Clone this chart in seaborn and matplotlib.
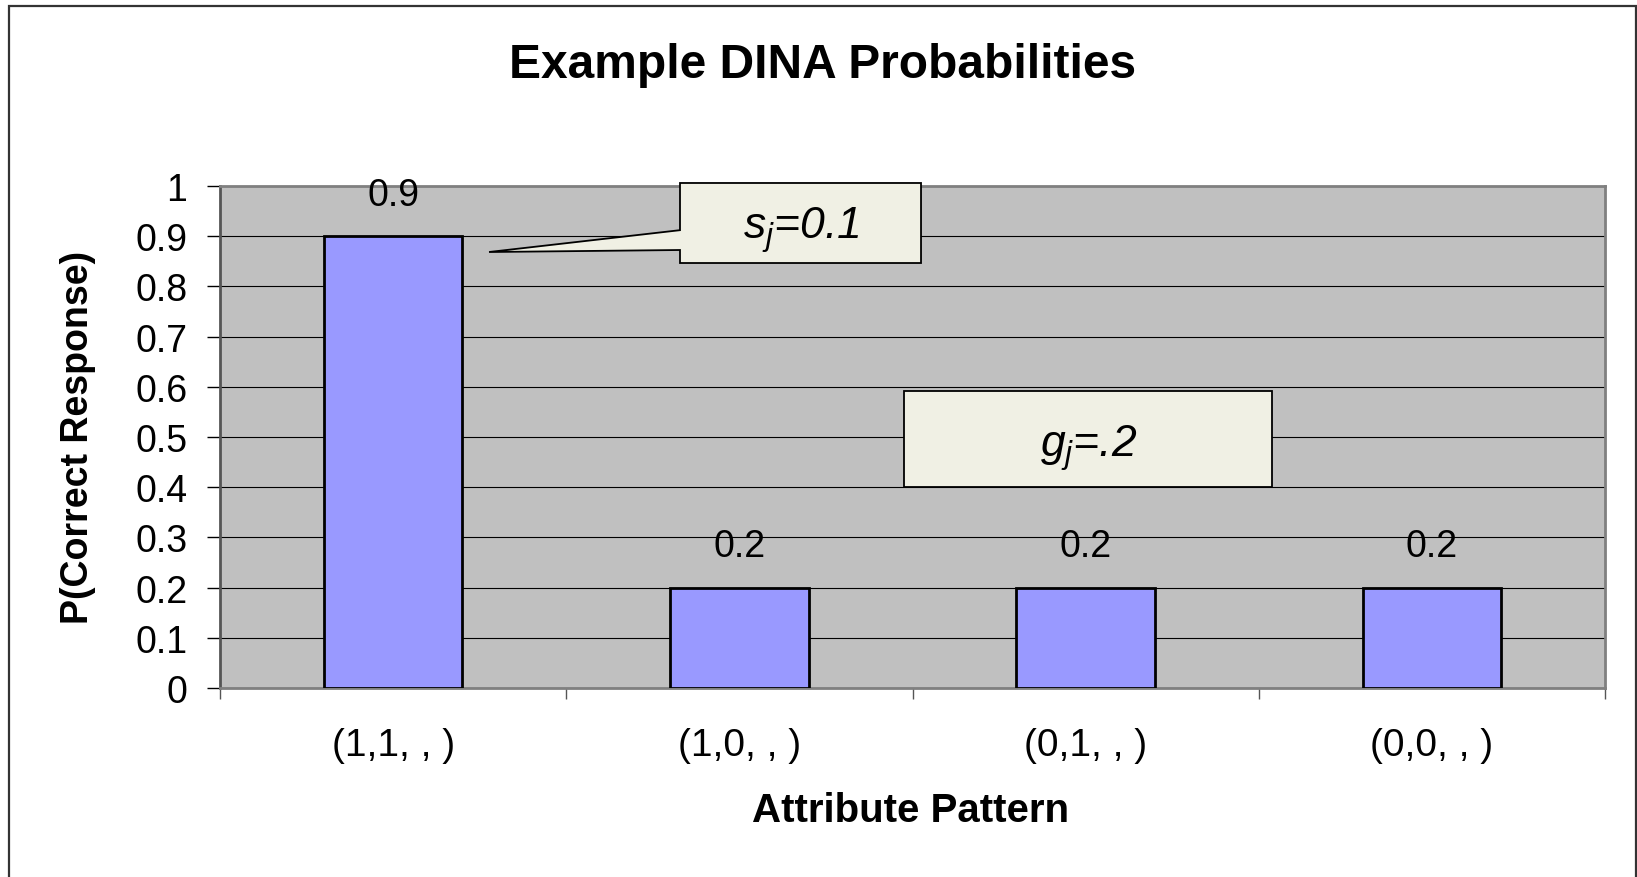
import matplotlib
matplotlib.use("Agg")
import matplotlib.pyplot as plt
import seaborn as sns
import pandas as pd
from matplotlib.patches import Polygon, Rectangle
from matplotlib.ticker import FixedLocator

# ---- data ----
patterns = ["(1,1, , )", "(1,0, , )", "(0,1, , )", "(0,0, , )"]
probabilities = [0.9, 0.2, 0.2, 0.2]
value_labels = ["0.9", "0.2", "0.2", "0.2"]
y_ticks = [0, 0.1, 0.2, 0.3, 0.4, 0.5, 0.6, 0.7, 0.8, 0.9, 1.0]
y_tick_labels = ["0", "0.1", "0.2", "0.3", "0.4", "0.5", "0.6", "0.7", "0.8", "0.9", "1"]
title = "Example DINA Probabilities"
x_label = "Attribute Pattern"
y_label = "P(Correct Response)"
slip_text = r"$s_j$=0.1"
guess_text = r"$g_j$=.2"

sns.set_style("white")
plt.rcParams["font.family"] = ["Liberation Sans", "DejaVu Sans"]
plt.rcParams["mathtext.fontset"] = "custom"
plt.rcParams["mathtext.it"] = "Liberation Sans:italic"
plt.rcParams["mathtext.rm"] = "Liberation Sans"
plt.rcParams["text.color"] = "black"
plt.rcParams["xtick.color"] = "black"
plt.rcParams["ytick.color"] = "black"
plt.rcParams["xtick.labelcolor"] = "black"
plt.rcParams["ytick.labelcolor"] = "black"

W, H = 1637, 878
fig = plt.figure(figsize=(W / 100, H / 100), dpi=100)
fig.patch.set_facecolor("white")

# axes position from pixel geometry
L, R, T, B = 220, 1605, 187, 689
ax = fig.add_axes([L / W, 1 - B / H, (R - L) / W, (B - T) / H])
ax.set_facecolor("#C0C0C0")

df = pd.DataFrame({"pattern": patterns, "p": probabilities})
sns.barplot(data=df, x="pattern", y="p", ax=ax, color="#9999FF", width=0.4,
            edgecolor="black", linewidth=2.0, saturation=1, zorder=3)

ax.set_xlim(-0.5, 3.5)
ax.set_ylim(0, 1.0)

# grid
ax.set_yticks(y_ticks)
ax.set_yticklabels(y_tick_labels, fontsize=27)
ax.yaxis.grid(True, color="black", linewidth=0.8, zorder=0)
ax.set_axisbelow(True)
ax.tick_params(axis="y", direction="out", length=9.5, width=1.0, color="black",
               pad=14, left=True)

# x ticks: labels at categories, tick marks at boundaries
ax.set_xticks(range(len(patterns)))
ax.set_xticklabels(patterns, fontsize=28)
ax.tick_params(axis="x", which="major", length=0, pad=28)
ax.xaxis.set_minor_locator(FixedLocator([-0.5, 0.5, 1.5, 2.5, 3.5]))
ax.tick_params(axis="x", which="minor", direction="out", length=8, width=1.0,
               color="#555555", bottom=True)

for s in ax.spines.values():
    s.set_color("#808080")
    s.set_linewidth(2.0)
ax.spines["left"].set_color("#555555")

ax.set_xlabel("")
ax.set_ylabel("")

# value labels
for i, (v, lab) in enumerate(zip(probabilities, value_labels)):
    ax.text(i, v + 0.082, lab, ha="center", va="center", fontsize=27, zorder=5)

# callout 1 (with pointer)
fill = "#F0F0E4"
x0, x1, yt, yb = 0.8285, 1.5246, 1.006, 0.8466
pa_top, pa_bot = 0.912, 0.8725
tip = (0.277, 0.8685)
poly = Polygon([(x0, yt), (x1, yt), (x1, yb), (x0, yb), (x0, pa_bot), tip, (x0, pa_top)],
               closed=True, facecolor=fill, edgecolor="black", linewidth=1.3,
               zorder=6, clip_on=False)
ax.add_patch(poly)
ax.text(1.18, 0.915, slip_text, ha="center", va="center", fontsize=32,
        style="italic", zorder=7)

# callout 2
gx0, gx1, gyt, gyb = 1.4755, 2.5383, 0.5916, 0.4004
ax.add_patch(Rectangle((gx0, gyb), gx1 - gx0, gyt - gyb, facecolor=fill,
                       edgecolor="black", linewidth=1.3, zorder=6))
ax.text(2.01, 0.48, guess_text, ha="center", va="center", fontsize=32,
        style="italic", zorder=7)

# titles
fig.text(823 / W, 1 - 65 / H, title, ha="center", va="center", fontsize=34.5,
         fontweight="bold")
fig.text(911 / W, 1 - 811 / H, x_label, ha="center", va="center", fontsize=29,
         fontweight="bold")
fig.text(78 / W, 1 - 437 / H, y_label, ha="center", va="center", fontsize=27,
         fontweight="bold", rotation=90)

# outer chart border
fig.add_artist(Rectangle((9 / W, -0.05), (1636 - 9) / W, 1.05 - 7 / H,
                         transform=fig.transFigure, fill=False,
                         edgecolor="#333333", linewidth=1.6))

fig.savefig("out.png", dpi=100)
